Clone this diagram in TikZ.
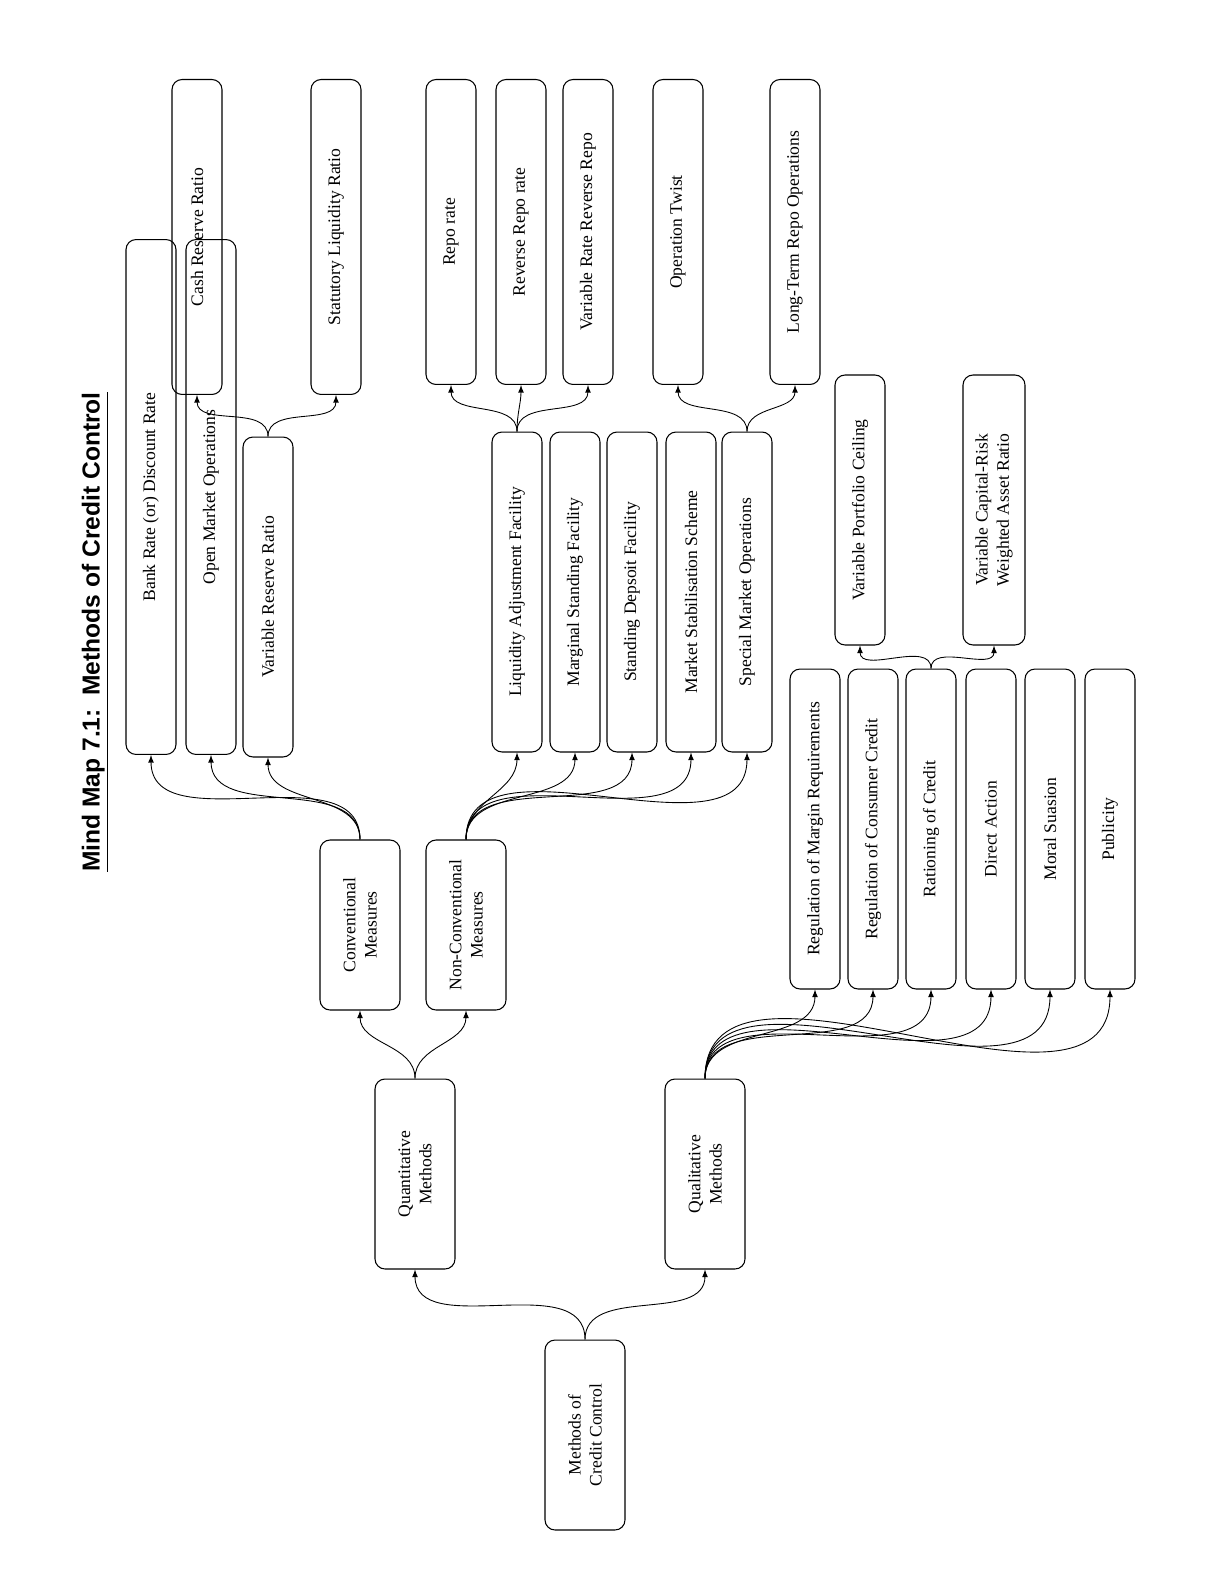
\documentclass[tikz,border=0pt]{standalone}
\usepackage{fontspec}
\setmainfont{Liberation Serif}
\setsansfont{Liberation Sans}
\usetikzlibrary{shapes,arrows,positioning}
\tikzset{basic/.style={draw,rotate=90,rounded corners=0.2cm,line width=0.6pt,align=center,font=\fontsize{10}{12}\selectfont,inner sep=1mm}}
\tikzset{bigbox/.style={basic,minimum width=3.8cm,minimum height=1.6cm}}
\tikzset{midbox/.style={basic,minimum width=3.4cm,minimum height=1.6cm}}
\tikzset{leaf/.style={basic,minimum width=6.3cm,minimum height=1.0cm}}
\tikzset{longleaf/.style={basic,minimum width=10.3cm,minimum height=1.0cm}}
\tikzset{facility/.style={basic,minimum width=6.4cm,minimum height=1.0cm}}
\tikzset{ratio/.style={basic,minimum width=5.4cm,minimum height=1.0cm}}
\tikzset{arrow/.style={draw,-latex,line width=0.5pt}}

\begin{document}
\begin{tikzpicture}[x=0.02cm,y=-0.02cm]
    \useasboundingbox (0,0) rectangle (1214,1574);
    \node[rotate=90,font=\sffamily\bfseries\fontsize{14}{16}\selectfont] (title) at (95,632) {\underline{Mind Map 7.1:\ \ Methods of Credit Control}};

    \node[bigbox] (root) at (585,1435) {Methods of\\Credit Control};
    \node[bigbox] (quant) at (415,1174) {Quantitative\\Methods};
    \node[bigbox] (qual) at (705,1174) {Qualitative\\Methods};
    \node[midbox] (conv) at (360,925) {Conventional\\Measures};
    \node[midbox] (nonconv) at (466,925) {Non-Conventional\\Measures};

    \node[longleaf] (bank) at (151,497) {Bank Rate (or) Discount Rate};
    \node[longleaf] (omo) at (211,497) {Open Market Operations};
    \node[facility] (vrr) at (268,597) {Variable Reserve Ratio};
    \node[leaf] (crr) at (197,237) {Cash Reserve Ratio};
    \node[leaf] (slr) at (336,237) {Statutory Liquidity Ratio};

    \node[facility] (laf) at (517,592) {Liquidity Adjustment Facility};
    \node[facility] (msf) at (575,592) {Marginal Standing Facility};
    \node[facility] (sdf) at (632,592) {Standing Depsoit Facility};
    \node[facility] (mss) at (691,592) {Market Stabilisation Scheme};
    \node[facility] (smo) at (747,592) {Special Market Operations};

    \node[basic,minimum width=6.1cm,minimum height=1.0cm] (repo) at (451,232) {Repo rate};
    \node[basic,minimum width=6.1cm,minimum height=1.0cm] (rrepo) at (521,232) {Reverse Repo rate};
    \node[basic,minimum width=6.1cm,minimum height=1.0cm] (vrrr) at (588,232) {Variable Rate Reverse Repo};
    \node[basic,minimum width=6.1cm,minimum height=1.0cm] (twist) at (678,232) {Operation Twist};
    \node[basic,minimum width=6.1cm,minimum height=1.0cm] (ltro) at (795,232) {Long-Term Repo Operations};

    \node[facility] (margin) at (815,829) {Regulation of Margin Requirements};
    \node[facility] (consumer) at (873,829) {Regulation of Consumer Credit};
    \node[facility] (ration) at (931,829) {Rationing of Credit};
    \node[facility] (direct) at (991,829) {Direct Action};
    \node[facility] (moral) at (1050,829) {Moral Suasion};
    \node[facility] (publicity) at (1110,829) {Publicity};

    \node[ratio] (vpc) at (860,510) {Variable Portfolio Ceiling};
    \node[ratio,minimum height=1.24cm] (crwar) at (994,510) {Variable Capital-Risk\\Weighted Asset Ratio};

    \foreach \a/\b in {root/quant,root/qual,quant/conv,quant/nonconv,
        conv/bank,conv/omo,conv/vrr,vrr/crr,vrr/slr,
        nonconv/laf,nonconv/msf,nonconv/sdf,nonconv/mss,nonconv/smo,
        laf/repo,laf/rrepo,laf/vrrr,smo/twist,smo/ltro,
        qual/margin,qual/consumer,qual/ration,qual/direct,qual/moral,qual/publicity,
        ration/vpc,ration/crwar}
        \path[arrow] (\a.east) to[out=90,in=-90] (\b.west);
\end{tikzpicture}
\end{document}
